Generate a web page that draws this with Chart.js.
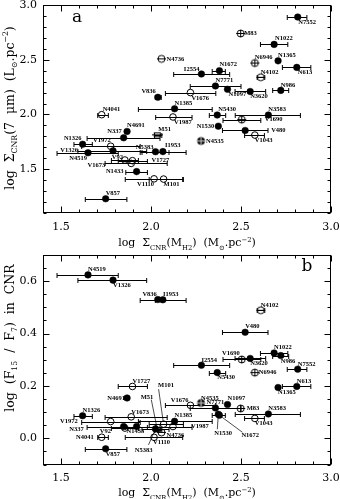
<!DOCTYPE html>
<html>
<head>
<meta charset="utf-8">
<script src="https://cdn.jsdelivr.net/npm/chart.js@4.4.1/dist/chart.umd.min.js"></script>
<style>
html, body { margin: 0; padding: 0; background: #fff; }
#wrap { position: relative; width: 340px; height: 499px; }
canvas { position: absolute; left: 0; }
</style>
</head>
<body>
<div id="wrap">
  <canvas id="panelA" width="340" height="250" style="top:0"></canvas>
  <canvas id="panelB" width="340" height="249" style="top:250px"></canvas>
</div>
<script>
// galaxies (same order in every array)
const galaxies = ['N7552','M83','N1022','N4736','N6946','N1365','N1672','N613','I2554','N4102',
  'N7771','N1097','N3620','N986','V836','V1676','N1385','N4041','N5430','N3583',
  'V1987','V1690','N1530','V480','V1043','N4535','N4691','N337','M51','N1326',
  'V1972','N5383','I1953','N4519','V1326','V92','V1727','V1673','N1433','V1110',
  'M101','V857'];

// log Sigma_CNR(M_H2)
const logSigmaH2 = [2.815,2.498,2.684,2.058,2.577,2.706,2.38,2.81,2.28,2.61,
  2.358,2.425,2.551,2.721,2.038,2.219,2.131,1.726,2.368,2.652,
  2.122,2.504,2.374,2.523,2.577,2.278,1.867,1.848,2.035,1.62,
  1.776,2.025,2.066,1.65,1.789,1.855,1.897,1.89,1.92,2.017,
  2.07,1.748];

// error bar ends on log Sigma(M_H2), null = no bar
const errLow = [2.757,null,2.608,null,null,null,2.34,2.73,2.126,2.59,
  2.218,null,2.467,2.676,2.024,2.08,1.93,1.704,2.324,2.468,
  2.026,2.40,null,2.397,2.52,null,null,1.645,2.02,1.572,
  1.615,1.95,1.94,1.478,1.594,1.78,1.818,1.745,1.86,1.857,
  1.99,1.635];
const errHigh = [2.866,null,2.76,null,null,null,2.413,2.888,2.437,2.632,
  2.50,null,2.637,2.765,2.057,2.36,2.34,1.763,2.415,2.83,
  2.228,2.61,null,2.65,2.63,null,null,2.05,2.06,1.674,
  1.94,2.10,2.195,1.818,1.976,1.93,1.98,2.09,1.98,2.176,
  2.18,1.866];

// panel a: log Sigma_CNR(7 um)
const logSigma7um = [2.89,2.74,2.64,2.508,2.47,2.49,2.40,2.43,2.37,2.34,
  2.26,2.23,2.21,2.22,2.157,2.20,2.052,1.998,1.995,1.995,
  1.977,1.953,1.893,1.854,1.812,1.758,1.845,1.787,1.814,1.728,
  1.71,1.66,1.661,1.65,1.668,1.584,1.578,1.553,1.478,1.412,
  1.41,1.23];

// panel b: log (F15/F7)
const logF15F7 = [0.264,0.114,0.326,0.0225,0.251,0.194,0.088,0.198,0.279,0.489,
  0.116,0.129,0.305,0.316,0.53,0.126,0.065,0.004,0.251,0.093,
  0.045,0.301,0.092,0.405,0.076,0.135,0.154,0.045,0.033,0.086,
  0.064,0.036,0.529,0.624,0.604,0.039,0.198,0.082,0.045,0.004,
  0.054,-0.04];

// symbol used for each galaxy
const markerKind = ['filled','plus','filled','minus','plus','filled','filled','filled','filled','minus',
  'filled','filled','filled','filled','filled','open','filled','open','filled','filled',
  'open','plus','filled','filled','open','filledplus','filled','filled','box','filled',
  'open','filled','filled','filled','filled','open','open','open','filled','open',
  'open','filled'];

const xTicks = [1.5, 2.0, 2.5, 3.0];
const yTicksA = [1.5, 2.0, 2.5, 3.0];
const yTicksB = [0.0, 0.2, 0.4, 0.6];

// label placement: [align, dx, dy, leaderX, leaderY]
const labelPosA = {
  N7552:['l',0.5,5], M83:['l',3.5,0], N1022:['l',1,-6], N4736:['l',5,0], N6946:['l',0,-6],
  N1365:['l',0,-6], N1672:['l',0,-6], N613:['l',1,5], I2554:['r',-2,-5], N4102:['l',0,-5],
  N7771:['l',0,-5.5], N1097:['l',1,5], N3620:['l',0,5], N986:['l',0,-5], V836:['r',-2,-5.5],
  V1676:['l',1,5.5], N1385:['l',0,-5.5], N4041:['l',1,-5], N5430:['l',1,-5.5], N3583:['l',0,-5.5],
  V1987:['l',1,5], V1690:['l',23,0], N1530:['r',-4,0], V480:['l',26,0], V1043:['l',0,5],
  N4535:['l',5,0], N4691:['l',0,-6], N337:['r',-2,-6], M51:['l',1,-6], N1326:['r',-1,-5.5],
  V1972:['r',0,-5.5], N5383:['r',-2,-4], I1953:['l',2,-6], N4519:['r',-1,5.5], V1326:['r',-35,0],
  V92:['r',-2,-3], V1727:['l',19,0], V1673:['r',-26,2], N1433:['r',-13,0], V1110:['r',0,5],
  M101:['l',0,5.5], V857:['l',0,-5.5]
};
const labelPosB = {
  N7552:['l',0,-4.5], M83:['l',6,0], N1022:['l',0,-6], N4736:['l',5,2.5], N6946:['l',4,0],
  N1365:['l',0,5], N1672:['l',22,20,23,17], N613:['l',0,-5], I2554:['l',0,-5], N4102:['l',0,-5],
  N7771:['l',-9,-5.5], N1097:['l',0,-6], N3620:['l',0,5], N986:['l',0,5.5], V836:['r',-1,-5],
  V1676:['r',-2,-5], N1385:['l',0,-6], N4041:['r',-8,0], N5430:['l',0,5], N3583:['l',0,-6],
  V1987:['l',18,0], V1690:['r',-2,-6], N1530:['l',-4,19,-1,15], V480:['l',0,-5.5], V1043:['l',0,5],
  N4535:['l',0,-5], N4691:['r',-2,0], N337:['r',-40,2.5], M51:['r',-4,-32,-6,-30], N1326:['l',0,-5],
  V1972:['r',-33,0], N5383:['r',-3,21,-7,16], I1953:['l',0,-5], N4519:['l',0,-5.5], V1326:['l',0,5.5],
  V92:['r',-14,3], V1727:['l',0,-5], V1673:['l',0,-4.5], N1433:['l',-10,4.5], V1110:['l',-1,5],
  M101:['l',-5.5,-39,-5,-35], V857:['l',0,5.5]
};

// small canvases used as point styles
function symbolCanvas(kind) {
  const c = document.createElement('canvas');
  c.width = 11; c.height = 11;
  const g = c.getContext('2d');
  g.strokeStyle = '#000';
  g.lineWidth = 1;
  const m = 5.5, r = 3.5;
  if (kind === 'box') {
    g.strokeRect(2.5, 3.5, 6, 4);
    g.beginPath(); g.moveTo(0, 5.5); g.lineTo(11, 5.5); g.stroke();
    return c;
  }
  g.beginPath(); g.arc(m, m, r, 0, Math.PI * 2);
  if (kind === 'filledplus') { g.fillStyle = '#222'; g.fill(); }
  g.stroke();
  g.beginPath();
  g.moveTo(m - r - 1, m); g.lineTo(m + r + 1, m);
  if (kind !== 'minus') { g.moveTo(m, m - r); g.lineTo(m, m + r); }
  if (kind === 'filledplus') g.strokeStyle = '#bbb';
  g.stroke();
  return c;
}

const kindStyle = {
  filled: { pointStyle: 'circle', pointRadius: 3.3, backgroundColor: '#000', borderColor: '#000', borderWidth: 0.5 },
  open: { pointStyle: 'circle', pointRadius: 3.3, backgroundColor: 'rgba(0,0,0,0)', borderColor: '#000', borderWidth: 1 },
  plus: { pointStyle: symbolCanvas('plus') },
  minus: { pointStyle: symbolCanvas('minus') },
  box: { pointStyle: symbolCanvas('box') },
  filledplus: { pointStyle: symbolCanvas('filledplus') }
};

function buildDatasets(yValues) {
  return Object.keys(kindStyle).map(k => Object.assign({
    label: k,
    data: galaxies.map((g, i) => markerKind[i] === k ? { x: logSigmaH2[i], y: yValues[i] } : null).filter(Boolean),
    showLine: false
  }, kindStyle[k]));
}

function errorBars(yValues) {
  return {
    id: 'errorBars',
    beforeDatasetsDraw(chart) {
      const { ctx, scales: { x, y } } = chart;
      ctx.save();
      ctx.strokeStyle = '#000';
      ctx.lineWidth = 1;
      yValues.forEach((v, i) => {
        if (errLow[i] == null) return;
        const py = Math.round(y.getPixelForValue(v)) + 0.5;
        const x0 = x.getPixelForValue(errLow[i]);
        const x1 = x.getPixelForValue(errHigh[i]);
        ctx.beginPath();
        ctx.moveTo(x0, py); ctx.lineTo(x1, py);
        ctx.moveTo(x0, py - 2.5); ctx.lineTo(x0, py + 2.5);
        ctx.moveTo(x1, py - 2.5); ctx.lineTo(x1, py + 2.5);
        ctx.stroke();
      });
      ctx.restore();
    }
  };
}

function galaxyLabels(yValues, layout) {
  return {
    id: 'galaxyLabels',
    afterDatasetsDraw(chart) {
      const { ctx, scales: { x, y } } = chart;
      ctx.save();
      ctx.font = 'bold 6.5px "Liberation Serif"';
      ctx.fillStyle = '#000';
      ctx.strokeStyle = '#000';
      ctx.lineWidth = 0.7;
      ctx.textBaseline = 'middle';
      galaxies.forEach((g, i) => {
        const pos = layout[g];
        if (!pos) return;
        const px = x.getPixelForValue(logSigmaH2[i]);
        const py = y.getPixelForValue(yValues[i]);
        const [side, dx, dy, lx, ly] = pos;
        ctx.textAlign = side === 'r' ? 'right' : 'left';
        ctx.fillText(g, px + dx, py + dy);
        if (lx !== undefined) {
          const d = Math.hypot(lx, ly);
          ctx.beginPath();
          ctx.moveTo(px + lx / d * 3.5, py + ly / d * 3.5);
          ctx.lineTo(px + lx, py + ly);
          ctx.stroke();
        }
      });
      ctx.restore();
    }
  };
}

// inward ticks on all four sides plus the frame
function frameTicks(xMinor, xMajor, yMinor, yMajor) {
  return {
    id: 'frameTicks',
    afterDraw(chart) {
      const { ctx, chartArea: a, scales: { x, y } } = chart;
      ctx.save();
      ctx.strokeStyle = '#000';
      ctx.lineWidth = 1;
      const L = Math.round(a.left) + 0.5, R = Math.round(a.right) - 0.5;
      const T = Math.round(a.top) + 0.5, B = Math.round(a.bottom) - 0.5;
      ctx.strokeRect(L, T, R - L, B - T);
      ctx.beginPath();
      const nx = Math.round((x.max - x.min) / xMinor);
      for (let k = 0; k <= nx; k++) {
        const v = x.min + k * xMinor;
        const major = Math.abs(v / xMajor - Math.round(v / xMajor)) < 1e-6;
        const len = major ? 6 : 3;
        const px = Math.round(x.getPixelForValue(v)) + 0.5;
        ctx.moveTo(px, B); ctx.lineTo(px, B - len);
        ctx.moveTo(px, T); ctx.lineTo(px, T + len);
      }
      const ny = Math.round((y.max - y.min) / yMinor);
      for (let k = 0; k <= ny; k++) {
        const v = y.min + k * yMinor;
        const major = Math.abs(v / yMajor - Math.round(v / yMajor)) < 1e-6;
        const len = major ? 6 : 3;
        const py = Math.round(y.getPixelForValue(v)) + 0.5;
        ctx.moveTo(L, py); ctx.lineTo(L + len, py);
        ctx.moveTo(R, py); ctx.lineTo(R - len, py);
      }
      ctx.stroke();
      ctx.restore();
    }
  };
}

// text with sub/superscripts: parts = [[text, 0|-1|1], ...]
function drawRich(ctx, parts, cx, cy, angle, size) {
  const fam = '"DejaVu Serif"';
  const small = size * 0.62;
  ctx.save();
  ctx.translate(cx, cy);
  ctx.rotate(angle);
  ctx.fillStyle = '#000';
  ctx.textBaseline = 'alphabetic';
  ctx.textAlign = 'left';
  let total = 0;
  parts.forEach(([t, s]) => {
    ctx.font = (s ? small : size) + 'px ' + fam;
    total += ctx.measureText(t).width;
  });
  let xx = -total / 2;
  const base = size * 0.36;
  parts.forEach(([t, s]) => {
    ctx.font = (s ? small : size) + 'px ' + fam;
    const off = s === -1 ? size * 0.28 : s === 1 ? -size * 0.45 : 0;
    ctx.fillText(t, xx, base + off);
    xx += ctx.measureText(t).width;
  });
  ctx.restore();
}

const xTitle = [['log  \u03a3', 0], ['CNR', -1], ['(M', 0], ['H2', -1], [')  (M', 0], ['\u2299', -1], ['.pc', 0], ['\u22122', 1], [')', 0]];
const yTitleA = [['log  \u03a3', 0], ['CNR', -1], ['(7  \u03bcm)  (L', 0], ['\u2299', -1], ['.pc', 0], ['\u22122', 1], [')', 0]];
const yTitleB = [['log  (F', 0], ['15', -1], ['  /  F', 0], ['7', -1], [')  in  CNR', 0]];

function titles(yTitle, yTitleY, letter, letterX, letterY) {
  return {
    id: 'titles',
    afterDraw(chart) {
      const { ctx, chartArea: a } = chart;
      drawRich(ctx, xTitle, (a.left + a.right) / 2, 242.5, 0, 11);
      drawRich(ctx, yTitle, 9, yTitleY, -Math.PI / 2, 12.5);
      ctx.save();
      ctx.font = '17px "DejaVu Serif"';
      ctx.fillStyle = '#000';
      ctx.textAlign = 'center';
      ctx.textBaseline = 'middle';
      ctx.fillText(letter, letterX, letterY);
      ctx.restore();
    }
  };
}

function makePanel(id, yValues, yMin, yMax, yTicks, yMinor, yMajor, layout, padTop, xHeight, extra) {
  return new Chart(document.getElementById(id), {
    type: 'scatter',
    data: { datasets: buildDatasets(yValues) },
    options: {
      responsive: false,
      animation: false,
      devicePixelRatio: 1,
      events: [],
      layout: { padding: { top: padTop, right: 9, left: 0, bottom: 0 } },
      plugins: { legend: { display: false }, tooltip: { enabled: false } },
      scales: {
        x: {
          type: 'linear', min: 1.4, max: 3.0,
          grid: { display: false, drawTicks: false },
          border: { display: false },
          afterBuildTicks: s => { s.ticks = xTicks.map(v => ({ value: v })); },
          afterFit: s => { s.height = xHeight; s.paddingLeft = 0; s.paddingRight = 0; },
          ticks: { padding: 7.4, color: '#000', font: { family: '"DejaVu Serif"', size: 11 },
                   callback: v => v.toFixed(1), maxRotation: 0, autoSkip: false }
        },
        y: {
          type: 'linear', min: yMin, max: yMax,
          grid: { display: false, drawTicks: false },
          border: { display: false },
          afterBuildTicks: s => { s.ticks = yTicks.map(v => ({ value: v })); },
          afterFit: s => { s.width = 43; s.paddingTop = 0; s.paddingBottom = 0; },
          ticks: { padding: 6, color: '#000', font: { family: '"DejaVu Serif"', size: 11 },
                   callback: v => v.toFixed(1), autoSkip: false }
        }
      }
    },
    plugins: [errorBars(yValues), galaxyLabels(yValues, layout), frameTicks(0.1, 0.5, yMinor, yMajor), extra]
  });
}

makePanel('panelA', logSigma7um, 1.1, 3.0, yTicksA, 0.1, 0.5, labelPosA, 1.5, 37,
  titles(yTitleA, 108, 'a', 77, 18));
makePanel('panelB', logF15F7, -0.1, 0.7, yTicksB, 0.05, 0.2, labelPosB, 2.5, 34.5,
  titles(yTitleB, 88, 'b', 307, 17));
</script>
</body>
</html>
